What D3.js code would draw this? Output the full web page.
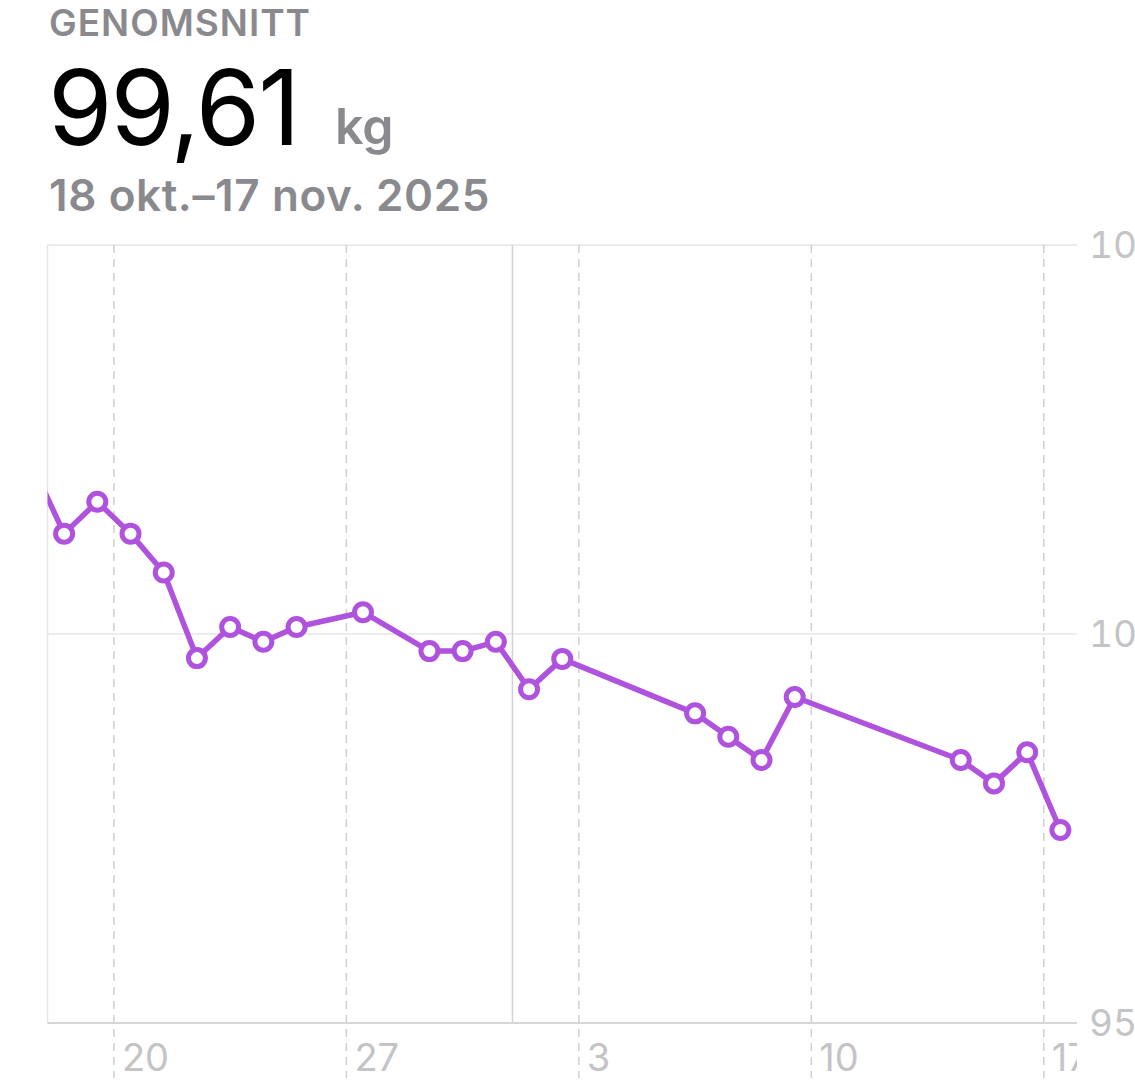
<!DOCTYPE html>
<html>
<head>
<meta charset="utf-8">
<script src="https://cdn.jsdelivr.net/npm/d3@7"></script>
<style>
  html, body { margin: 0; padding: 0; background: #fff; }
  svg { display: block; font-family: Inter, "Noto Sans", sans-serif; }
  .hdr { fill: #8a8a8e; font-weight: 600; }
  .grid { stroke: #e6e6e6; stroke-width: 1.5; }
  .axis-line { stroke: #d6d6d6; stroke-width: 2; }
  .tick-dash { stroke: #cfcfcf; stroke-width: 1.5; stroke-dasharray: 8 6; }
  .tick-label { fill: #c4c4c6; }
  .y-label { font-variant-numeric: tabular-nums; }
</style>
</head>
<body>
<svg id="viz" width="1135" height="1084"></svg>
<script>
const days    = ["2025-10-17","2025-10-18","2025-10-19","2025-10-20","2025-10-21","2025-10-22","2025-10-23",
                 "2025-10-24","2025-10-25","2025-10-27","2025-10-29","2025-10-30","2025-10-31","2025-11-01",
                 "2025-11-02","2025-11-06","2025-11-07","2025-11-08","2025-11-09","2025-11-14","2025-11-15",
                 "2025-11-16","2025-11-17"];
const weights = [102.21, 101.29, 101.70, 101.29, 100.79, 99.69, 100.09,
                 99.90, 100.09, 100.28, 99.78, 99.78, 99.90, 99.29,
                 99.68, 98.98, 98.68, 98.38, 99.19, 98.38, 98.08,
                 98.48, 97.48];
const yTicks  = [95, 100, 105];
const xTicks  = ["2025-10-20","2025-10-27","2025-11-03","2025-11-10","2025-11-17"];
const monthLine = "2025-11-01";
const domain  = ["2025-10-18","2025-11-18"];

(function() {
  const svg = d3.select("#viz");
  const H = 1084;
  const pLeft = 47.5, pRight = 1077, pTop = 245, pBottom = 1023;

  const parse = s => new Date(s + "T00:00:00Z");
  const noon = s => d3.utcHour.offset(parse(s), 12);

  const x = d3.scaleUtc().domain(domain.map(parse)).range([pLeft, pRight]);
  const y = d3.scaleLinear().domain([95, 105]).range([pBottom, pTop]);

  // header
  svg.append("text").attr("class", "hdr").attr("x", 49).attr("y", 36)
    .style("font-size", "37px").style("letter-spacing", "1px").text("GENOMSNITT");
  svg.append("text").attr("x", 48).attr("y", 145)
    .style("font-size", "104px").style("font-weight", 400).style("letter-spacing", "-2px")
    .attr("fill", "#000").text("99,61");
  svg.append("text").attr("class", "hdr").attr("x", 335).attr("y", 144)
    .style("font-size", "50px").text("kg");
  svg.append("text").attr("class", "hdr").attr("x", 49).attr("y", 211)
    .style("font-size", "44px").style("letter-spacing", "0.6px").text("18 okt.–17 nov. 2025");

  const defs = svg.append("defs");
  defs.append("clipPath").attr("id", "plotClip")
    .append("rect").attr("x", pLeft).attr("y", 0).attr("width", pRight - pLeft).attr("height", H);

  // grid
  const gridG = svg.append("g");
  gridG.selectAll(".hg").data(yTicks.filter(d => d !== 95)).join("line")
    .attr("class", "grid")
    .attr("x1", pLeft).attr("x2", pRight)
    .attr("y1", d => y(d)).attr("y2", d => y(d));
  gridG.append("line").attr("class", "grid")
    .attr("x1", pLeft).attr("x2", pLeft).attr("y1", pTop).attr("y2", pBottom);
  gridG.append("line").attr("class", "grid").style("stroke", "#d2d2d2")
    .attr("x1", x(parse(monthLine))).attr("x2", x(parse(monthLine)))
    .attr("y1", pTop).attr("y2", pBottom);

  // dashed week ticks
  gridG.selectAll(".vd").data(xTicks).join("line")
    .attr("class", "tick-dash")
    .attr("x1", d => x(parse(d))).attr("x2", d => x(parse(d)))
    .attr("y1", pTop).attr("y2", 1078);

  gridG.append("line").attr("class", "axis-line")
    .attr("x1", pLeft).attr("x2", pRight).attr("y1", pBottom).attr("y2", pBottom);

  // x labels (clipped at the plot's right edge, as in the app)
  svg.append("g").attr("clip-path", "url(#plotClip)")
    .selectAll("text").data(xTicks).join("text")
    .attr("class", "tick-label")
    .attr("x", d => x(parse(d)) + 8).attr("y", 1071)
    .style("font-size", "38px")
    .text(d => +d.slice(8));

  // y labels
  svg.append("g").selectAll("text").data(yTicks).join("text")
    .attr("class", "tick-label y-label")
    .attr("x", 1089).attr("y", d => y(d) + 13)
    .style("font-size", "37px")
    .text(d => d);

  // line + points
  const plot = svg.append("g").attr("clip-path", "url(#plotClip)");
  const pts = days.map((d, i) => ({ t: noon(d), v: weights[i] }));
  plot.append("path").datum(pts)
    .attr("fill", "none").attr("stroke", "#af52de").attr("stroke-width", 5.5)
    .attr("stroke-linejoin", "round")
    .attr("d", d3.line().x(d => x(d.t)).y(d => y(d.v)));
  plot.selectAll("circle").data(pts).join("circle")
    .attr("cx", d => x(d.t)).attr("cy", d => y(d.v)).attr("r", 8.5)
    .attr("fill", "#fff").attr("stroke", "#af52de").attr("stroke-width", 5);
})();
</script>
</body>
</html>
